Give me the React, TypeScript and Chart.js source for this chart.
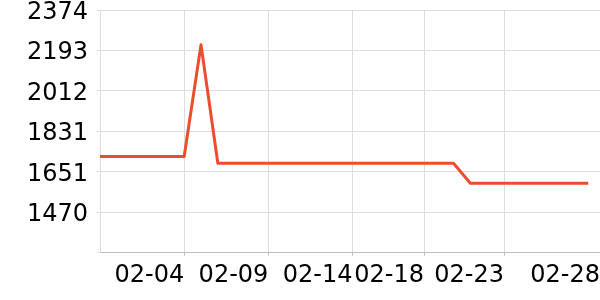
import React, { useEffect, useRef } from "react";
import { Chart, registerables } from "chart.js";

Chart.register(...registerables);

// Days from 01-30 to 02-28 (index 0..29)
const dates: string[] = [
  "01-30", "01-31", "02-01", "02-02", "02-03", "02-04", "02-05", "02-06", "02-07", "02-08",
  "02-09", "02-10", "02-11", "02-12", "02-13", "02-14", "02-15", "02-16", "02-17", "02-18",
  "02-19", "02-20", "02-21", "02-22", "02-23", "02-24", "02-25", "02-26", "02-27", "02-28",
];

const prices: number[] = [
  1719, 1719, 1719, 1719, 1719, 1719, 2219, 1689, 1689, 1689,
  1689, 1689, 1689, 1689, 1689, 1689, 1689, 1689, 1689, 1689,
  1689, 1689, 1599, 1599, 1599, 1599, 1599, 1599, 1599, 1599,
];

// x-axis tick labels and their positions (in days from 01-30)
const xTickLabels: string[] = ["02-04", "02-09", "02-14", "02-18", "02-23", "02-28"];
const xTickDays: number[] = [5, 10, 15, 19.25, 24, 29.7];
const xMin = 0;
const xMax = 29.7;

const yMin = 1288.8;
const yMax = 2374;
const yTickCount = 7;

const LINE_COLOR = "#ee4d2d";
const GRID_COLOR = "#dddddd";
const AXIS_COLOR = "#bdbdbd";
const FONT = { family: "'DejaVu Sans', sans-serif", size: 24 };

export default function App() {
  const ref = useRef<HTMLCanvasElement | null>(null);

  useEffect(() => {
    document.body.style.margin = "0";
    if (!ref.current) return;
    const points = dates.map((_, i) => ({ x: i, y: prices[i] }));
    const chart = new Chart(ref.current, {
      type: "line",
      data: {
        datasets: [
          {
            data: points,
            borderColor: LINE_COLOR,
            backgroundColor: LINE_COLOR,
            borderWidth: 3,
            pointRadius: 0,
            tension: 0,
            borderJoinStyle: "round",
            fill: false,
          },
        ],
      },
      options: {
        animation: false,
        responsive: false,
        maintainAspectRatio: false,
        layout: { padding: { top: 0, right: 0, bottom: 3.5, left: 0 } },
        plugins: { legend: { display: false }, tooltip: { enabled: false } },
        scales: {
          x: {
            type: "linear",
            min: xMin,
            max: xMax,
            afterBuildTicks: (scale: any) => {
              scale.ticks = xTickDays.map((v) => ({ value: v }));
            },
            afterFit: (scale: any) => {
              scale.paddingRight = 0;
              scale.paddingLeft = 0;
            },
            ticks: {
              align: "end",
              autoSkip: false,
              maxRotation: 0,
              padding: 6,
              color: "#000",
              font: FONT,
              callback: (_v: any, i: number) => xTickLabels[i],
            },
            grid: { color: GRID_COLOR, tickLength: 3, tickColor: AXIS_COLOR },
            border: { color: AXIS_COLOR },
          },
          y: {
            min: yMin,
            max: yMax,
            afterFit: (scale: any) => {
              scale.width = 100;
              scale.paddingTop = 10;
              scale.paddingBottom = 0;
            },
            ticks: {
              count: yTickCount,
              padding: 9,
              labelOffset: 2.5,
              color: "#000",
              font: FONT,
              callback: (v: any, i: number) => (i === 0 ? "" : String(Math.round(Number(v)))),
            },
            grid: { color: GRID_COLOR, tickLength: 3, tickColor: GRID_COLOR },
            border: { color: GRID_COLOR },
          },
        },
      },
    });
    return () => chart.destroy();
  }, []);

  return (
    <div style={{ width: 600, height: 300 }}>
      <canvas ref={ref} width={600} height={300} style={{ display: "block" }} />
    </div>
  );
}
